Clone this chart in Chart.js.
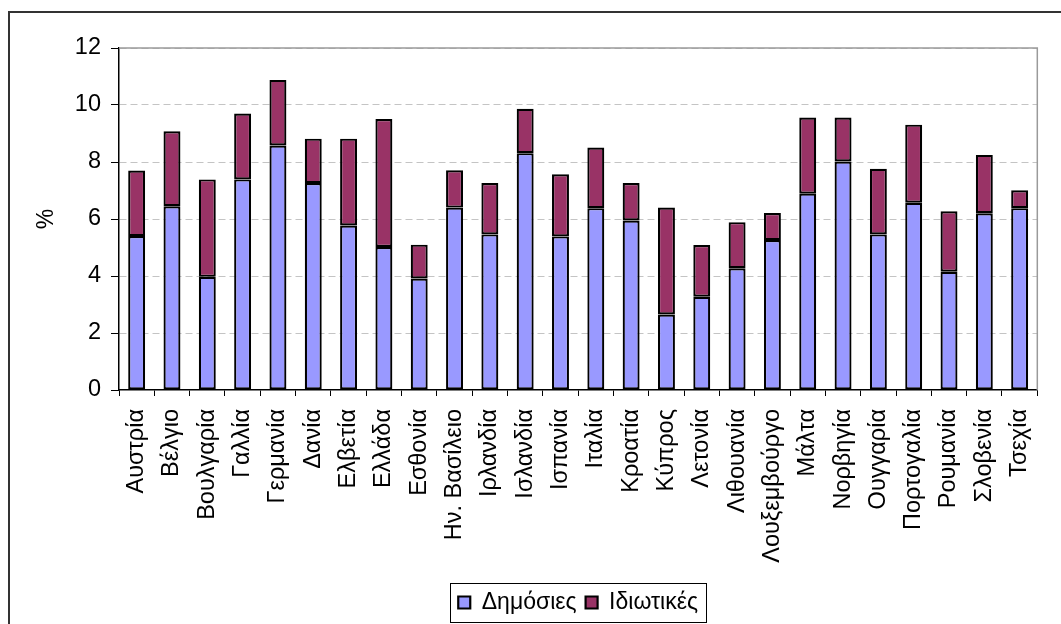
<!DOCTYPE html>
<html>
<head>
<meta charset="utf-8">
<script src="https://cdn.jsdelivr.net/npm/chart.js@4/dist/chart.umd.min.js"></script>
<style>
  html, body { margin: 0; padding: 0; background: #fff; }
  #wrap { width: 1061px; height: 624px; }
</style>
</head>
<body>
<div id="wrap"><canvas id="myChart" width="1061" height="624"></canvas></div>
<script>
// Expenditure on education as % of GDP, by country
const countries = ["Αυστρία", "Βέλγιο", "Βουλγαρία", "Γαλλία", "Γερμανία", "Δανία", "Ελβετία", "Ελλάδα", "Εσθονία", "Ην. Βασίλειο",
    "Ιρλανδία", "Ισλανδία", "Ισπανία", "Ιταλία", "Κροατία", "Κύπρος", "Λετονία", "Λιθουανία", "Λουξεμβούργο", "Μάλτα",
    "Νορβηγία", "Ουγγαρία", "Πορτογαλία", "Ρουμανία", "Σλοβενία", "Τσεχία"];
const publicSpend = [5.40, 6.45, 3.97, 7.39, 8.58, 7.26, 5.77, 5.02, 3.91, 6.40,
    5.46, 8.31, 5.39, 6.38, 5.95, 2.65, 3.27, 4.27, 5.26, 6.89,
    8.02, 5.46, 6.57, 4.15, 6.20, 6.38];
const privateSpend = [2.30, 2.63, 3.42, 2.31, 2.30, 1.56, 3.05, 4.49, 1.19, 1.31,
    1.80, 1.56, 2.18, 2.13, 1.31, 3.75, 1.82, 1.62, 0.95, 2.67,
    1.54, 2.30, 2.74, 2.12, 2.05, 0.63];
const yTicks = [0, 2, 4, 6, 8, 10, 12];

const seriesNames = ["Δημόσιες", "Ιδιωτικές"];
const seriesColors = ["#9999FF", "#993366"];

Chart.defaults.font.family = "'Liberation Sans', Arial, sans-serif";
Chart.defaults.color = "#000";

// Outer chart border, plot area frame and a box round the legend
const framePlugin = {
    id: "frame",
    beforeDraw(chart) {
        const c = chart.ctx;
        c.save();
        c.fillStyle = "#fff";
        c.fillRect(0, 0, chart.width, chart.height);
        c.strokeStyle = "#333";
        c.lineWidth = 2;
        c.beginPath();
        c.moveTo(9, chart.height);
        c.lineTo(9, 12);
        c.lineTo(chart.width, 12);
        c.stroke();
        c.restore();
    },
    beforeDatasetsDraw(chart) {
        const a = chart.chartArea;
        const c = chart.ctx;
        c.save();
        c.strokeStyle = "#9a9a9a";
        c.lineWidth = 1.5;
        c.beginPath();
        c.moveTo(a.left, a.top);
        c.lineTo(a.right, a.top);
        c.lineTo(a.right, a.bottom);
        c.stroke();
        c.restore();
    },
    afterDraw(chart) {
        const boxes = chart.legend.legendHitBoxes;
        if (!boxes || !boxes.length) return;
        let l = Infinity, t = Infinity, r = -Infinity, b = -Infinity;
        boxes.forEach(h => {
            l = Math.min(l, h.left);
            t = Math.min(t, h.top);
            r = Math.max(r, h.left + h.width);
            b = Math.max(b, h.top + h.height);
        });
        const c = chart.ctx;
        c.save();
        c.strokeStyle = "#000";
        c.lineWidth = 1;
        c.strokeRect(Math.round(l - 8) + 0.5, Math.round(t - 8) + 0.5, Math.round(r - l + 16), Math.round(b - t + 16));
        c.restore();
    }
};

const ctx = document.getElementById("myChart").getContext("2d");

const myChart = new Chart(ctx, {
    type: "bar",
    data: {
        labels: countries,
        datasets: [publicSpend, privateSpend].map((values, i) => ({
            label: seriesNames[i],
            data: values,
            backgroundColor: seriesColors[i],
            borderColor: "#000",
            borderWidth: 2.2,
            borderSkipped: false,
            barPercentage: 0.48,
            categoryPercentage: 1
        }))
    },
    options: {
        responsive: false,
        animation: false,
        devicePixelRatio: 1,
        layout: {
            padding: { left: 8, top: 48, right: 8, bottom: 0 }
        },
        scales: {
            x: {
                stacked: true,
                grid: {
                    drawOnChartArea: false,
                    drawTicks: true,
                    tickLength: 6,
                    tickColor: "#000",
                    offset: true
                },
                border: { color: "#000", width: 1.5 },
                ticks: {
                    autoSkip: false,
                    maxRotation: 90,
                    minRotation: 90,
                    padding: 13,
                    font: { size: 23.5 }
                },
                afterFit(scale) { scale.height = 192; }
            },
            y: {
                stacked: true,
                min: yTicks[0],
                max: yTicks[yTicks.length - 1],
                afterBuildTicks(scale) { scale.ticks = yTicks.map(v => ({ value: v })); },
                ticks: {
                    padding: 10,
                    font: { size: 23.5 }
                },
                grid: {
                    color: c => (c.tick && c.tick.value === 0) ? "rgba(0,0,0,0)" : "#c4c4c4",
                    lineWidth: 1,
                    tickColor: "#000",
                    tickLength: 8
                },
                border: { color: "#000", width: 1.5, dash: [7, 4] },
                title: {
                    display: true,
                    text: "%",
                    font: { size: 23 },
                    padding: { top: 25, bottom: 0 }
                },
                afterFit(scale) { scale.width = 111; }
            }
        },
        plugins: {
            legend: {
                position: "bottom",
                fullSize: false,
                labels: {
                    boxWidth: 12,
                    boxHeight: 12,
                    padding: 9,
                    font: { size: 23 }
                }
            },
            tooltip: { enabled: false }
        }
    },
    plugins: [framePlugin]
});
</script>
</body>
</html>
